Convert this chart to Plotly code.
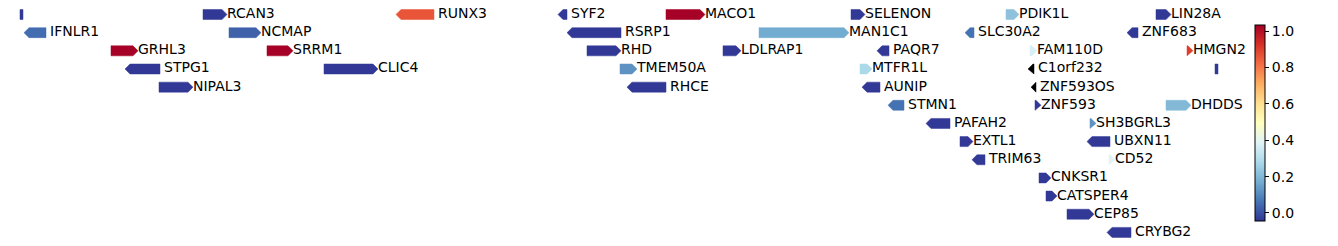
import plotly.graph_objects as go
from plotly.colors import sample_colorscale
import math

NAN = float("nan")

genes   = ["", "RCAN3", "RUNX3", "SYF2", "MACO1", "SELENON", "PDIK1L", "LIN28A",
           "IFNLR1", "NCMAP", "RSRP1", "MAN1C1", "SLC30A2", "ZNF683",
           "GRHL3", "SRRM1", "RHD", "LDLRAP1", "PAQR7", "FAM110D", "HMGN2",
           "STPG1", "CLIC4", "TMEM50A", "MTFR1L", "C1orf232", "",
           "NIPAL3", "RHCE", "AUNIP", "ZNF593OS",
           "STMN1", "ZNF593", "DHDDS",
           "PAFAH2", "SH3BGRL3",
           "EXTL1", "UBXN11",
           "TRIM63", "CD52",
           "CNKSR1", "CATSPER4", "CEP85", "CRYBG2"]
starts  = [20, 203, 396, 558, 666, 851, 1006, 1156,
           24, 229, 567, 759, 965, 1127,
           111, 267, 587, 723, 877, 1030, 1187,
           125, 324, 620, 860, 1028, 1215,
           159, 627, 862, 1031,
           888, 1035, 1166,
           926, 1090,
           960, 1087,
           972, 1109,
           1039, 1046, 1067, 1107]
ends    = [23, 227, 434, 567, 705, 865, 1019, 1171,
           46, 261, 621, 849, 974, 1138,
           138, 293, 621, 741, 889, 1037, 1193,
           160, 378, 637, 872, 1034, 1218,
           193, 666, 880, 1036,
           904, 1041, 1191,
           950, 1096,
           973, 1110,
           985, 1115,
           1051, 1057, 1094, 1131]
strands = [".", "+", "-", "-", "+", "+", "+", "+",
           "-", "+", "-", "+", "-", "-",
           "+", "+", "+", "+", "-", "+", "+",
           "-", "+", "+", "+", "-", ".",
           "+", "-", "-", "-",
           "-", "+", "+",
           "-", "+",
           "+", "-",
           "-", "+",
           "+", "+", "+", "-"]
rows    = [0, 0, 0, 0, 0, 0, 0, 0,
           1, 1, 1, 1, 1, 1,
           2, 2, 2, 2, 2, 2, 2,
           3, 3, 3, 3, 3, 3,
           4, 4, 4, 4,
           5, 5, 5,
           6, 6,
           7, 7,
           8, 8,
           9, 10, 11, 12]
values  = [-0.04, -0.04, 0.86, -0.04, 1.03, -0.04, 0.22, -0.04,
           0.05, 0.03, -0.04, 0.17, 0.06, -0.04,
           1.03, 1.03, -0.04, -0.04, -0.04, 0.37, 0.9,
           -0.04, -0.04, 0.12, 0.28, NAN, -0.04,
           -0.04, -0.04, -0.04, NAN,
           0.06, -0.04, 0.2,
           -0.04, 0.12,
           -0.04, -0.04,
           -0.04, 0.39,
           -0.04, -0.04, -0.04, -0.04]

vmin, vmax = -0.044, 1.033
cbar_ticks = [0.0, 0.2, 0.4, 0.6, 0.8, 1.0]
cscale = "RdYlBu_r"

HEAD = 5.0
HH = 0.275

fig = go.Figure()

for name, s, e, st, r, v in zip(genes, starts, ends, strands, rows, values):
    if v is None or (isinstance(v, float) and math.isnan(v)):
        col = "black"
    else:
        frac = min(max((v - vmin) / (vmax - vmin), 0), 1)
        col = sample_colorscale(cscale, [frac])[0]
    h = min(HEAD, e - s)
    if st == "+":
        xs = [s, e - h, e, e - h, s, s]
        ys = [r - HH, r - HH, r, r + HH, r + HH, r - HH]
    elif st == "-":
        xs = [e, s + h, s, s + h, e, e]
        ys = [r - HH, r - HH, r, r + HH, r + HH, r - HH]
    else:
        xs = [s, e, e, s, s]
        ys = [r - HH, r - HH, r + HH, r + HH, r - HH]
    fig.add_trace(go.Scatter(x=xs, y=ys, mode="lines", fill="toself",
                             fillcolor=col, line=dict(color=col, width=0.5),
                             hoverinfo="skip", showlegend=False))

lab_x = [e + (0 if st == "+" else 4) for e, st in zip(ends, strands)]
fig.add_trace(go.Scatter(x=lab_x, y=rows, mode="text", text=genes,
                         textposition="middle right", cliponaxis=False,
                         textfont=dict(family="DejaVu Sans", size=14, color="black"),
                         hoverinfo="skip", showlegend=False))

fig.add_trace(go.Scatter(
    x=[None], y=[None], mode="markers", showlegend=False, hoverinfo="skip",
    marker=dict(color=[vmin], cmin=vmin, cmax=vmax, colorscale=cscale, size=0,
                showscale=True,
                colorbar=dict(x=1255 / 1240, xanchor="left", xpad=0, ypad=0,
                              y=0.5, yanchor="middle",
                              lenmode="pixels", len=196,
                              thicknessmode="pixels", thickness=10,
                              outlinewidth=1, outlinecolor="black",
                              ticks="outside", ticklen=4, tickcolor="black",
                              tickvals=cbar_ticks, tickformat=".1f",
                              tickfont=dict(family="DejaVu Sans", size=14, color="black"))),
))

fig.update_layout(
    width=1338, height=246,
    margin=dict(l=0, r=98, t=0, b=0),
    paper_bgcolor="white", plot_bgcolor="white",
    xaxis=dict(range=[0, 1240], visible=False, fixedrange=True),
    yaxis=dict(range=[12.75, -0.80], visible=False, fixedrange=True),
)

fig.write_html("out.html")
